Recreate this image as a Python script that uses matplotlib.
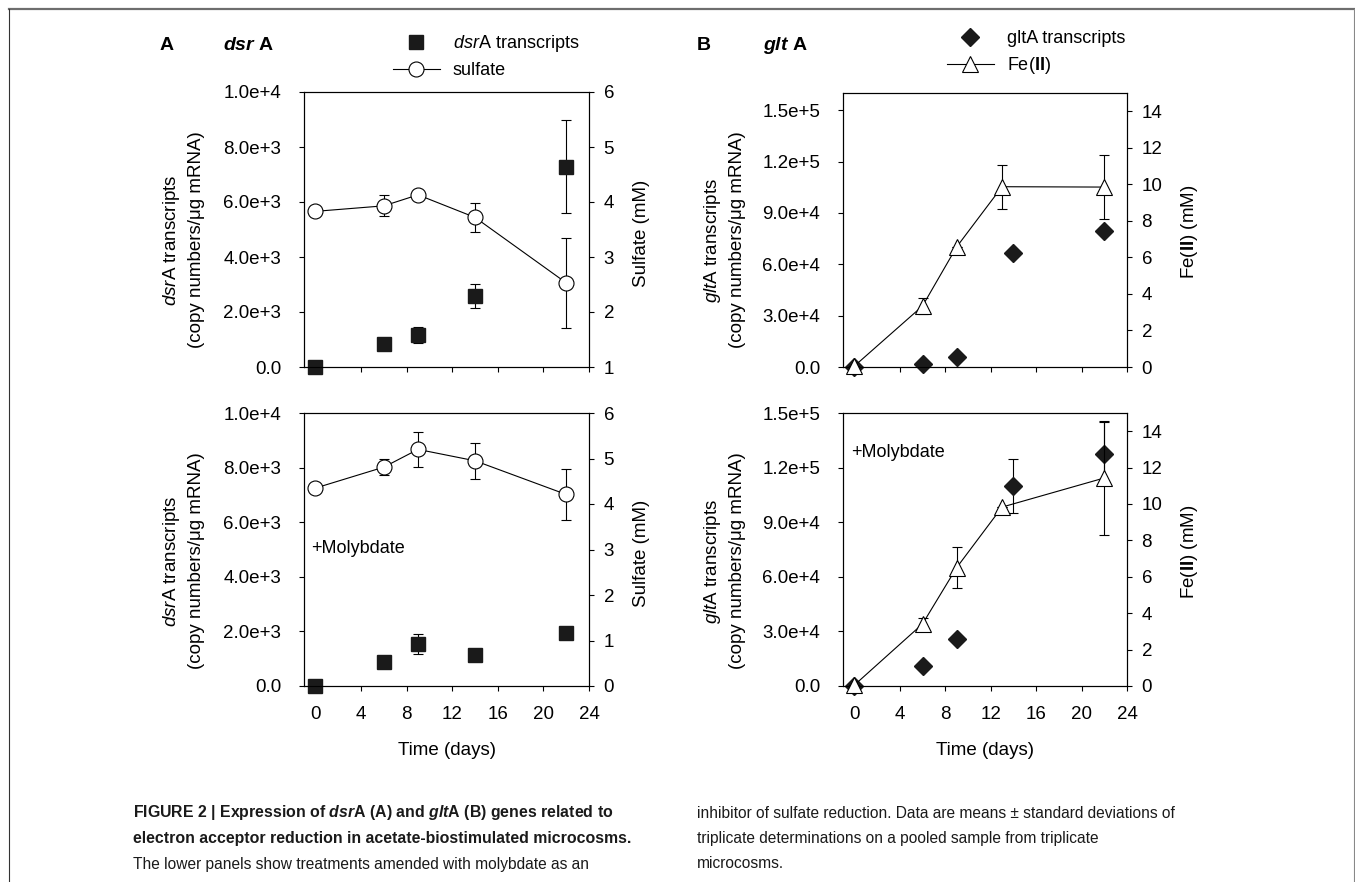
import numpy as np
import matplotlib.pyplot as plt
from matplotlib.lines import Line2D
from matplotlib.ticker import FuncFormatter

plt.rcParams['font.family'] = ['Liberation Sans', 'DejaVu Sans']
plt.rcParams['mathtext.fontset'] = 'custom'
plt.rcParams['mathtext.rm'] = 'Liberation Sans'
plt.rcParams['mathtext.it'] = 'Liberation Sans:italic'
plt.rcParams['mathtext.bf'] = 'Liberation Sans:bold'
plt.rcParams['mathtext.bfit'] = 'Liberation Sans:bold:italic'

# sampling days
days = [0, 6, 9, 14, 22]
fe_days = [0, 6, 9, 13, 22]

# panel A, no molybdate
dsr_top = [0, 850, 1150, 2580, 7290]
dsr_top_err = [0, 0, 290, 450, 1690]
sulfate_top = [3.83, 3.93, 4.13, 3.72, 2.53]
sulfate_top_err = [0, 0.19, 0, 0.26, 0.82]

# panel A, +molybdate
dsr_mo = [0, 880, 1540, 1120, 1930]
dsr_mo_err = [0, 0, 370, 0, 0]
sulfate_mo = [4.35, 4.81, 5.20, 4.95, 4.21]
sulfate_mo_err = [0, 0.18, 0.39, 0.40, 0.57]

# panel B, no molybdate
glt_top = [0, 2000, 5800, 66800, 79500]
glt_top_err = [0, 0, 0, 0, 0]
fe_top = [0.05, 3.34, 6.57, 9.87, 9.85]
fe_top_err = [0, 0.43, 0, 1.21, 1.77]

# panel B, +molybdate
glt_mo = [0, 11000, 25600, 109900, 127700]
glt_mo_err = [0, 0, 0, 14700, 17400]
fe_mo = [0.05, 3.41, 6.5, 9.83, 11.43]
fe_mo_err = [0, 0.35, 1.13, 0, 3.12]

x_ticks = [0, 4, 8, 12, 16, 20, 24]
dsr_ticks = [0, 2000, 4000, 6000, 8000, 10000]
glt_ticks = [0, 30000, 60000, 90000, 120000, 150000]
sulfate_ticks_top = [1, 2, 3, 4, 5, 6]
sulfate_ticks_mo = [0, 1, 2, 3, 4, 5, 6]
fe_ticks = [0, 2, 4, 6, 8, 10, 12, 14]

W, H = 1355, 882
FS = 13.5


def sci(v, pos):
    if v == 0:
        return '0.0'
    m, e = f"{v:.1e}".split('e')
    return f"{m}e+{int(e)}"


def px(x, y):
    return x / W, 1 - y / H


def panel(rect, xd, yl, yl_err, yl_lim, yl_ticks, mk, ms,
          xr, yr, yr_err, yr_lim, yr_ticks, rmk, rms, xlabels):
    ax = fig.add_axes(rect)
    ax.errorbar(xd, yl, yerr=yl_err, fmt='none', ecolor='black',
                elinewidth=0.8, capsize=3.6, capthick=0.8, zorder=2, clip_on=False)
    h1, = ax.plot(xd, yl, ls='none', marker=mk, ms=ms, color='#1a1a1a',
                  mec='#1a1a1a', zorder=3, clip_on=False)
    ax.set_xlim(-1, 24)
    ax.set_ylim(*yl_lim)
    ax.set_xticks(x_ticks)
    ax.set_yticks(yl_ticks)
    ax.yaxis.set_major_formatter(FuncFormatter(sci))
    ax.tick_params(axis='y', direction='out', length=3.5, width=0.8, pad=13, labelsize=FS)
    ax.tick_params(axis='x', direction='out', length=3.5, width=0.8, pad=11, labelsize=FS,
                   labelbottom=xlabels)
    for s in ax.spines.values():
        s.set_linewidth(0.8)

    ax2 = ax.twinx()
    ax2.errorbar(xr, yr, yerr=yr_err, fmt='none', ecolor='black',
                 elinewidth=0.8, capsize=3.6, capthick=0.8, zorder=2, clip_on=False)
    h2, = ax2.plot(xr, yr, '-', marker=rmk, ms=rms, color='black', lw=0.8,
                   mfc='white', mec='black', mew=0.8, zorder=3, clip_on=False)
    ax2.set_ylim(*yr_lim)
    ax2.set_yticks(yr_ticks)
    ax2.tick_params(axis='y', direction='out', length=3.5, width=0.8, pad=7, labelsize=FS)
    for s in ax2.spines.values():
        s.set_linewidth(0.8)
    if xlabels:
        ax.set_xlabel('Time (days)', fontsize=FS)
        ax.xaxis.set_label_coords(0.5, -0.205)
    return ax, h1, h2


fig = plt.figure(figsize=(W / 100, H / 100), dpi=100)

axA1, hs, hc = panel([304 / W, 1 - 367 / H, 285 / W, 275 / H], days, dsr_top, dsr_top_err,
                     (0, 10000), dsr_ticks, 's', 10, days, sulfate_top, sulfate_top_err,
                     (1, 6), sulfate_ticks_top, 'o', 10.8, False)
axA2, _, _ = panel([304 / W, 1 - 686 / H, 285 / W, 273 / H], days, dsr_mo, dsr_mo_err,
                   (0, 10000), dsr_ticks, 's', 10, days, sulfate_mo, sulfate_mo_err,
                   (0, 6), sulfate_ticks_mo, 'o', 10.8, True)
axB1, hd, ht = panel([843 / W, 1 - 367 / H, 284 / W, 274 / H], days, glt_top, glt_top_err,
                     (0, 160000), glt_ticks, 'D', 9.3, fe_days, fe_top, fe_top_err,
                     (0, 15), fe_ticks, '^', 11.3, False)
axB2, _, _ = panel([843 / W, 1 - 686 / H, 284 / W, 273 / H], days, glt_mo, glt_mo_err,
                   (0, 150000), glt_ticks, 'D', 9.3, fe_days, fe_mo, fe_mo_err,
                   (0, 15), fe_ticks, '^', 11.3, True)

axA2.text(0.025, 0.505, '+Molybdate', transform=axA2.transAxes, fontsize=13, va='center')
axB2.text(0.03, 0.855, '+Molybdate', transform=axB2.transAxes, fontsize=13, va='center')

# y labels
ylab_dsr = '$dsr$A transcripts\n(copy numbers/μg mRNA)'
ylab_glt = '$glt$A transcripts\n(copy numbers/μg mRNA)'
for (x, y, s) in [(183, 240, ylab_dsr), (183, 561, ylab_dsr),
                  (724, 240, ylab_glt), (724, 561, ylab_glt)]:
    fig.text(*px(x, y), s, rotation=90, ha='center', va='center', fontsize=FS,
             multialignment='center', linespacing=1.4)
for (x, y, s) in [(642, 233, 'Sulfate (mM)'), (642, 553, 'Sulfate (mM)'),
                  (1190, 232, r'Fe($\mathbf{II}$) (mM)'), (1190, 552, r'Fe($\mathbf{II}$) (mM)')]:
    fig.text(*px(x, y), s, rotation=90, ha='center', va='center', fontsize=FS)

# panel headers
fig.text(*px(160, 45), 'A', fontsize=14, fontweight='bold', va='center')
fig.text(*px(223, 45), r'$\mathbfit{dsr}$ A', fontsize=14, fontweight='bold', va='center')
fig.text(*px(697, 45), 'B', fontsize=14, fontweight='bold', va='center')
fig.text(*px(763, 45), r'$\mathbfit{glt}$ A', fontsize=14, fontweight='bold', va='center')

# legends
fig.legend([hs, hc], ['$dsr$A transcripts', 'sulfate'], loc='upper left',
           bbox_to_anchor=px(393, 33), frameon=False, fontsize=13, borderpad=0,
           borderaxespad=0, handlelength=2.6, handletextpad=0.7, labelspacing=0.45, numpoints=1)
fig.legend([hd, ht], ['gltA transcripts', r'Fe($\mathbf{II}$)'], loc='upper left',
           bbox_to_anchor=px(947, 30), frameon=False, fontsize=13, borderpad=0,
           borderaxespad=0, handlelength=2.6, handletextpad=0.7, labelspacing=0.45, numpoints=1)

# caption
cap_left = [r'FIGURE 2 | Expression of $\mathbfit{dsr}$A (A) and $\mathbfit{glt}$A (B) genes related to',
            'electron acceptor reduction in acetate-biostimulated microcosms.',
            'The lower panels show treatments amended with molybdate as an']
cap_right = ['inhibitor of sulfate reduction. Data are means ± standard deviations of',
             'triplicate determinations on a pooled sample from triplicate',
             'microcosms.']
for i, (yy, s) in enumerate(zip([813, 839, 864], cap_left)):
    fig.text(*px(133, yy), s, fontsize=11.4 if i < 2 else 11.2, va='center',
             fontweight='bold' if i < 2 else 'normal', color='#1a1a1a')
for yy, s in zip([813, 839, 864], cap_right):
    fig.text(*px(697, yy), s, fontsize=11.2, va='center', color='#1a1a1a')

# page border
fig.add_artist(Line2D([9 / W, 1354 / W], [1 - 9 / H, 1 - 9 / H], color='#6e6e6e', lw=1.6))
fig.add_artist(Line2D([9 / W, 9 / W], [0, 1 - 9 / H], color='#333333', lw=0.8))
fig.add_artist(Line2D([1354 / W, 1354 / W], [0, 1 - 9 / H], color='#888888', lw=0.8))

fig.savefig('out.png', dpi=100)
